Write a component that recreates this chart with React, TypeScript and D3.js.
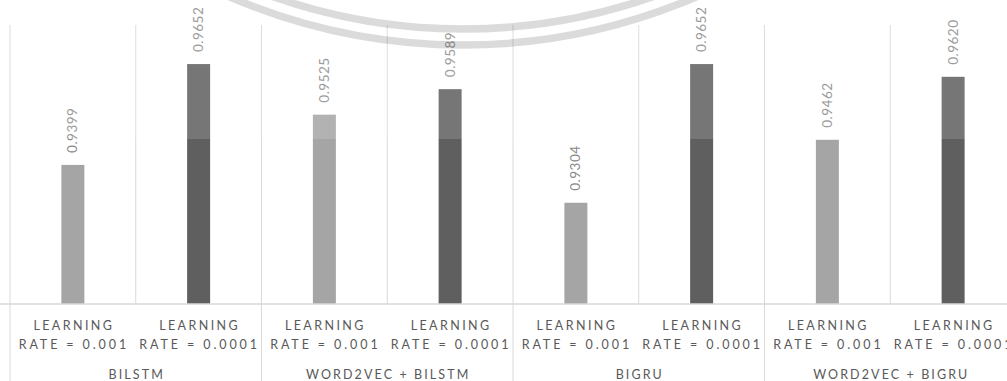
import React from "react";
import * as d3 from "d3";

// Model groups along the bottom axis
const groups = ["BILSTM", "WORD2VEC + BILSTM", "BIGRU", "WORD2VEC + BIGRU"];
// Learning-rate settings within each group
const rateLines = [
  ["LEARNING", "RATE = 0.001"],
  ["LEARNING", "RATE = 0.0001"],
];
// Accuracy per group for each learning rate
const accRate001 = [0.9399, 0.9525, 0.9304, 0.9462];
const accRate0001 = [0.9652, 0.9589, 0.9652, 0.962];

const W = 1007;
const H = 381;

const colLight = "#a5a5a5";
const colDark = "#5f5f5f";
const grid = "#d9d9d9";

export default function App() {
  const rows = groups.flatMap((g, gi) => [
    { group: g, gi, ri: 0, value: accRate001[gi] },
    { group: g, gi, ri: 1, value: accRate0001[gi] },
  ]);
  const keys = rows.map((_, i) => String(i));

  const plotLeft = 10;
  const slot = 125.75;
  const x = d3
    .scaleBand<string>()
    .domain(keys)
    .range([plotLeft, plotLeft + slot * keys.length])
    .padding(0);

  const axisY = 304;
  const topY = 25;
  const y = d3.scaleLinear().domain([0.905, 0.975]).range([axisY, topY]);

  const barW = 23;
  const fmt = d3.format(".4f");
  const font = "Lato, 'Open Sans', sans-serif";

  return (
    <svg
      width={W}
      height={H}
      style={{ position: "absolute", left: 0, top: 0, background: "#fff" }}
    >
      {/* vertical category separators inside the plot */}
      {keys.map((k) => (
        <line
          key={"v" + k}
          x1={x(k)!}
          x2={x(k)!}
          y1={topY}
          y2={axisY}
          stroke={grid}
          strokeWidth={1}
        />
      ))}
      {/* group separators extending through the label area */}
      {groups.map((g, gi) => {
        const gx = x(String(gi * 2))!;
        return (
          <line key={"g" + g} x1={gx} x2={gx} y1={axisY} y2={H} stroke={grid} />
        );
      })}

      {/* bars */}
      {rows.map((r, i) => {
        const cx = x(String(i))! + x.bandwidth() / 2;
        return (
          <rect
            key={"b" + i}
            x={cx - barW / 2}
            y={y(r.value)}
            width={barW}
            height={axisY - y(r.value)}
            fill={r.ri === 0 ? colLight : colDark}
          />
        );
      })}

      {/* value labels */}
      {rows.map((r, i) => {
        const cx = x(String(i))! + x.bandwidth() / 2 + 1;
        const ty = y(r.value) - 12;
        return (
          <text
            key={"t" + i}
            transform={`translate(${cx},${ty}) rotate(-90)`}
            textAnchor="start"
            dominantBaseline="middle"
            fontFamily={font}
            fontSize={13.5}
            letterSpacing={0.5}
            fill="#8a8a8a"
          >
            {fmt(r.value)}
          </text>
        );
      })}

      {/* soft white haze over the upper part of the plot */}
      <rect x={0} y={0} width={W} height={139} fill="#fff" opacity={0.15} />

      {/* faint concentric arcs across the top */}
      <circle cx={463} cy={-545} r={590} fill="none" stroke="#000" strokeOpacity={0.14} strokeWidth={7.5} />
      <circle cx={463} cy={-545} r={574} fill="none" stroke="#000" strokeOpacity={0.14} strokeWidth={7.5} />

      {/* horizontal axis */}
      <line x1={0} x2={W} y1={axisY} y2={axisY} stroke={grid} strokeWidth={1.5} />

      {/* category labels */}
      {rows.map((r, i) => {
        const cx = x(String(i))! + x.bandwidth() / 2;
        return (
          <text
            key={"c" + i}
            x={cx}
            textAnchor="middle"
            fontFamily={font}
            fontSize={12.5}
            fill="#595959"
          >
            <tspan x={cx + 1} y={330} letterSpacing={2.4}>
              {rateLines[r.ri][0]}
            </tspan>
            <tspan x={cx + 1} y={349} letterSpacing={2.9}>
              {rateLines[r.ri][1]}
            </tspan>
          </text>
        );
      })}
      {groups.map((g, gi) => {
        const gx = x(String(gi * 2))! + x.bandwidth();
        return (
          <text
            key={"gl" + g}
            x={gx + 1}
            y={379}
            textAnchor="middle"
            fontFamily={font}
            fontSize={12.5}
            fill="#595959"
            letterSpacing={2.1}
          >
            {g}
          </text>
        );
      })}
    </svg>
  );
}
